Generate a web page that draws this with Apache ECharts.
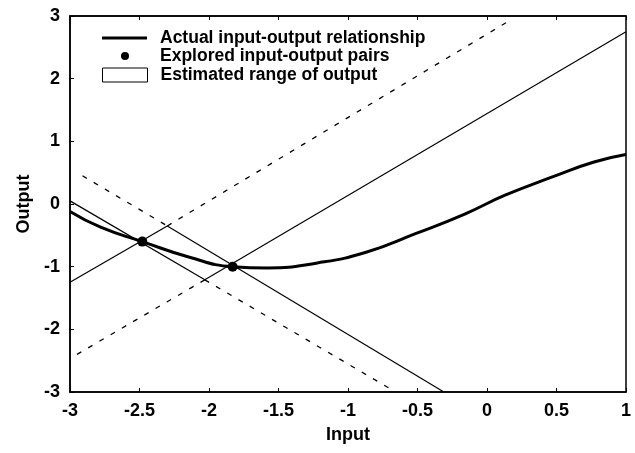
<!DOCTYPE html>
<html>
<head>
<meta charset="utf-8">
<script src="https://cdn.jsdelivr.net/npm/echarts@6/dist/echarts.min.js"></script>
<style>
html, body { margin: 0; padding: 0; background: #fff; }
#chart { width: 635px; height: 453px; }
</style>
</head>
<body>
<div id="chart"></div>
<script>
// actual input-output curve
var curveX = [-3, -2.78, -2.48, -2.14, -1.83, -1.58, -1.22, -0.87, -0.51, -0.16, 0.13, 0.48, 0.77, 1]
var curveY = [-0.12, -0.37, -0.6, -0.85, -1.0, -1.02, -0.94, -0.77, -0.47, -0.16, 0.14, 0.44, 0.67, 0.79]

// explored pairs
var pointX = [-2.48, -1.83]
var pointY = [-0.6, -1.0]

// estimated range, solid segments [x0, y0, x1, y1]
var rangeSegs = [
  [-3, 0.05, -2.03, -1.21],
  [-3, -1.25, -2.3, -0.35],
  [-2.3, -0.35, -0.31, -3],
  [-2.03, -1.21, 1, 2.75]
]
// dashed continuations
var dashSegs = [
  [-2.91, 0.45, -2.3, -0.35],
  [-2.3, -0.35, 0.18, 2.95],
  [-2.95, -2.4, -2.03, -1.21],
  [-2.03, -1.21, -0.68, -2.97]
]

var xTicks = [-3, -2.5, -2, -1.5, -1, -0.5, 0, 0.5, 1]
var yTicks = [-3, -2, -1, 0, 1, 2, 3]

var FONT = 'Liberation Sans'
var names = ['Actual input-output relationship', 'Explored input-output pairs', 'Estimated range of output']

var myChart = echarts.init(document.getElementById('chart'))

var series = []
rangeSegs.forEach(function (s) {
  series.push({
    name: names[2],
    type: 'line',
    symbol: 'none',
    silent: true,
    lineStyle: { color: '#000', width: 1.2 },
    itemStyle: { color: '#fff', borderColor: '#000' },
    data: [[s[0], s[1]], [s[2], s[3]]]
  })
})
dashSegs.forEach(function (s) {
  series.push({
    type: 'line',
    symbol: 'none',
    silent: true,
    lineStyle: { color: '#000', width: 1.3, type: [5, 8] },
    data: [[s[0], s[1]], [s[2], s[3]]]
  })
})
series.push({
  name: names[0],
  type: 'line',
  smooth: true,
  symbol: 'none',
  lineStyle: { color: '#000', width: 3 },
  itemStyle: { color: '#000' },
  data: curveX.map(function (x, i) { return [x, curveY[i]] })
})
series.push({
  name: names[1],
  type: 'scatter',
  symbolSize: 10,
  itemStyle: { color: '#000', opacity: 1 },
  data: pointX.map(function (x, i) { return [x, pointY[i]] })
})

var legendText = { fontFamily: FONT, fontSize: 17.5, fontWeight: 'bold', color: '#000', padding: [0, 0, 0, 8] }
var legendBase = {
  orient: 'vertical',
  left: 102,
  padding: 0,
  itemWidth: 45,
  itemGap: 0,
  textStyle: legendText,
  selectedMode: false
}

var tickFont = { fontFamily: FONT, fontSize: 18, fontWeight: 'bold', color: '#000' }

var option = {
  animation: false,
  backgroundColor: '#fff',
  grid: { left: 70, right: 9, top: 16, bottom: 61, show: true, borderColor: '#000', borderWidth: 1.5 },
  legend: [
    Object.assign({}, legendBase, {
      top: 29, itemHeight: 3,
      data: [{ name: names[0], icon: 'rect', itemStyle: { color: '#000' } }]
    }),
    Object.assign({}, legendBase, {
      top: 47, left: 121, itemWidth: 8, itemHeight: 8,
      textStyle: Object.assign({}, legendText, { padding: [0, 0, 0, 26] }),
      data: [{ name: names[1], icon: 'circle', itemStyle: { color: '#000', opacity: 1 } }]
    }),
    Object.assign({}, legendBase, {
      top: 66, itemHeight: 14,
      data: [{ name: names[2], icon: 'rect', itemStyle: { color: '#fff', borderColor: '#000', borderWidth: 1 } }]
    })
  ],
  xAxis: [
    {
      type: 'value',
      min: xTicks[0],
      max: xTicks[xTicks.length - 1],
      interval: 0.5,
      name: 'Input',
      nameLocation: 'middle',
      nameGap: 34,
      nameTextStyle: tickFont,
      axisLine: { onZero: false, lineStyle: { color: '#000', width: 1.5 } },
      axisTick: { inside: true, length: 4, lineStyle: { color: '#000' } },
      axisLabel: Object.assign({ margin: 10 }, tickFont),
      splitLine: { show: false }
    },
    {
      type: 'value',
      position: 'top',
      min: xTicks[0],
      max: xTicks[xTicks.length - 1],
      interval: 0.5,
      axisLine: { onZero: false, lineStyle: { color: '#000', width: 1.5 } },
      axisTick: { inside: true, length: 4, lineStyle: { color: '#000' } },
      axisLabel: { show: false },
      splitLine: { show: false }
    }
  ],
  yAxis: {
    type: 'value',
    min: yTicks[0],
    max: yTicks[yTicks.length - 1],
    interval: 1,
    name: 'Output',
    nameLocation: 'middle',
    nameGap: 37,
    nameTextStyle: tickFont,
    axisLine: { onZero: false, lineStyle: { color: '#000', width: 1.5 } },
    axisTick: { inside: true, length: 4, lineStyle: { color: '#000' } },
    axisLabel: Object.assign({ margin: 10 }, tickFont),
    splitLine: { show: false }
  },
  series: series
}

myChart.setOption(option)
</script>
</body>
</html>
